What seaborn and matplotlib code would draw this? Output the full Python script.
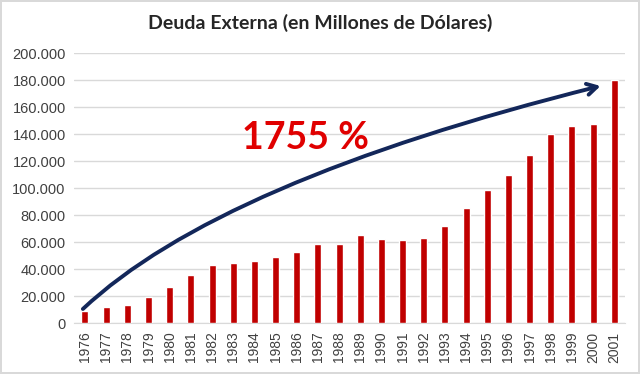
import matplotlib
matplotlib.use("Agg")
import matplotlib.pyplot as plt
import seaborn as sns
import pandas as pd
from matplotlib.path import Path
from matplotlib.patches import FancyArrowPatch
from matplotlib.ticker import FuncFormatter

years = [str(y) for y in range(1976, 2002)]
deuda = [9400, 11900, 13600, 19300, 26900, 35600, 43500, 44900, 46400, 49400,
         52800, 58800, 58800, 65200, 62200, 61500, 63000, 71900, 85700, 98500,
         109600, 124700, 140500, 146200, 147700, 180000]

titulo = "Deuda Externa (en Millones de Dólares)"
etiqueta = "1755 %"

# arrow: start, control, end in data units (category index, value)
flecha_x = [-0.1, 6.3, 24.35]
flecha_y = [10600, 105000, 175800]

df = pd.DataFrame({"anio": years, "deuda": deuda})

sns.set_style("white")
plt.rcParams["font.family"] = ["Liberation Sans", "DejaVu Sans"]

fig = plt.figure(figsize=(6.4, 3.74), dpi=100)
fig.patch.set_edgecolor("#D9D9D9")
fig.patch.set_linewidth(1.5)
ax = fig.add_axes([0.1156, 0.1356, 0.8614, 0.7219])

sns.barplot(data=df, x="anio", y="deuda", color="#C00000", width=0.33,
            saturation=1, ax=ax, zorder=3)

ax.set_ylim(0, 200000)
ax.set_xlim(-0.52, len(years) - 0.48)
ax.set_yticks(range(0, 200001, 20000))
ax.yaxis.set_major_formatter(FuncFormatter(lambda v, p: f"{int(v):,}".replace(",", ".")))
ax.grid(axis="y", color="#D9D9D9", linewidth=1, zorder=0)
ax.set_xlabel("")
ax.set_ylabel("")
for s in ["top", "right", "left"]:
    ax.spines[s].set_visible(False)
ax.spines["bottom"].set_color("#D9D9D9")
ax.tick_params(axis="x", rotation=90, labelsize=10, colors="#404040", length=0, pad=6)
ax.tick_params(axis="y", labelsize=10.5, colors="#404040", length=0, pad=6)

fig.text(0.5, 0.938, titulo, ha="center", va="center", fontsize=14,
         fontweight="bold", color="#262626", family=["Lato", "DejaVu Sans"])

ax.text(10.4, 137000, etiqueta, ha="center", va="center", fontsize=27,
        fontweight="bold", color="#E00000", family=["Lato", "DejaVu Sans"])

ruta = Path(list(zip(flecha_x, flecha_y)), [Path.MOVETO, Path.CURVE3, Path.CURVE3])
arrow = FancyArrowPatch(path=ruta, arrowstyle="->,head_length=7,head_width=4",
                        color="#13275A", linewidth=2.8, zorder=5)
ax.add_patch(arrow)

fig.savefig("out.png", dpi=100)
